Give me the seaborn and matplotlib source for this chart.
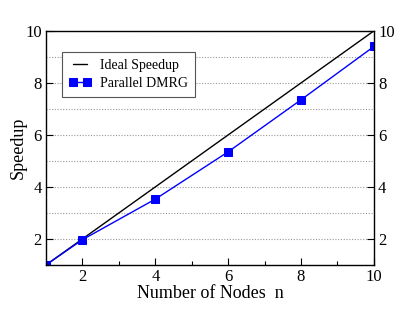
import numpy as np
import matplotlib
matplotlib.use("Agg")
import matplotlib.pyplot as plt
import seaborn as sns
from matplotlib.ticker import MultipleLocator

nodes = [1, 2, 4, 6, 8, 10]
speedup = [1.0, 1.97, 3.53, 5.35, 7.35, 9.40]
ideal_nodes = [1, 10]
ideal_speedup = [1, 10]

sns.set_style("ticks")
plt.rcParams["font.family"] = ["Liberation Serif", "DejaVu Serif"]
plt.rcParams.update({"text.color": "black", "axes.labelcolor": "black",
                     "xtick.color": "black", "ytick.color": "black"})

fig = plt.figure(figsize=(4.15, 3.12), dpi=100)
ax = fig.add_axes([0.111, 0.151, 0.79, 0.75])

sns.lineplot(x=ideal_nodes, y=ideal_speedup, ax=ax, color="black", linewidth=1.0,
             label="Ideal Speedup")
sns.lineplot(x=nodes, y=speedup, ax=ax, color="#0000ff", linewidth=1.0, marker="s",
             markersize=6, markeredgecolor="#0000ff", label="Parallel DMRG")

ax.set_xlim(1, 10)
ax.set_ylim(1, 10)
ax.xaxis.set_major_locator(MultipleLocator(2))
ax.xaxis.set_minor_locator(MultipleLocator(1))
ax.yaxis.set_major_locator(MultipleLocator(2))
ax.yaxis.set_minor_locator(MultipleLocator(1))
ax.grid(which="both", axis="y", linestyle=(0, (1, 1.5)), color="#999999", linewidth=0.8)
ax.tick_params(which="major", direction="in", length=5, labelsize=12, width=0.8,
               right=True, labelright=True, pad=3)
ax.tick_params(which="minor", direction="in", length=3, width=0.8, right=False, left=False)
ax.tick_params(axis="x", which="minor", bottom=True)
for s in ax.spines.values():
    s.set_linewidth(1.0)
    s.set_color("black")

ax.set_xlabel("Number of Nodes  n", fontsize=13, labelpad=0)
ax.set_ylabel("Speedup", fontsize=13, labelpad=-1)

leg = ax.legend(loc="upper left", bbox_to_anchor=(0.049, 0.91), borderaxespad=0,
                fontsize=10, numpoints=2, frameon=True, fancybox=False,
                edgecolor="#555555", framealpha=1, handlelength=1.6,
                borderpad=0.5, labelspacing=0.35, handletextpad=0.6)
leg.get_frame().set_linewidth(0.8)

fig.savefig("out.png", dpi=100)
